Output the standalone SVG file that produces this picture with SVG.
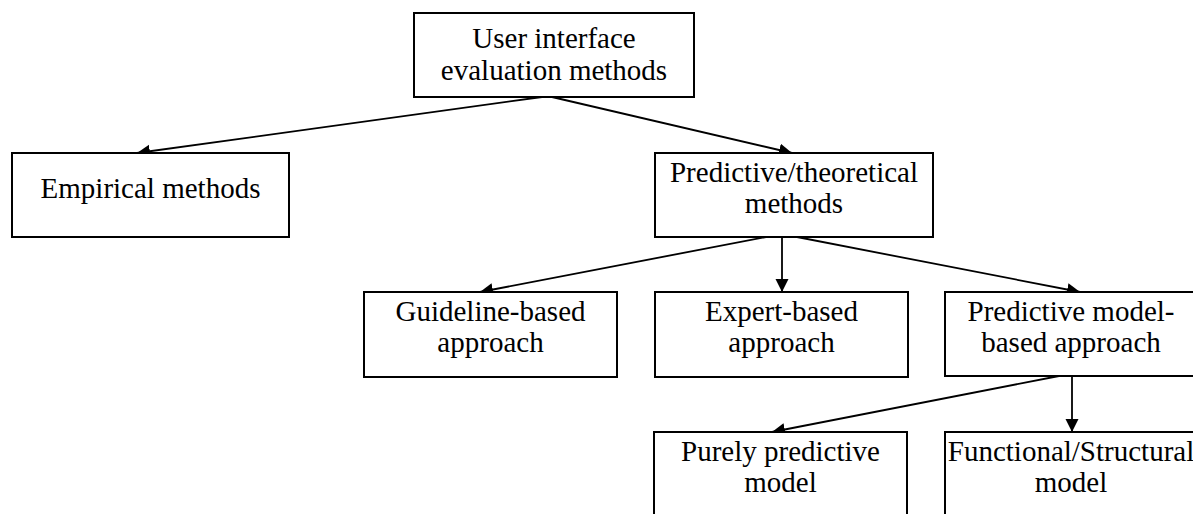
<svg xmlns="http://www.w3.org/2000/svg" width="1193" height="514" viewBox="0 0 1193 514">
<style>
.box{fill:#fff;stroke:#000;stroke-width:2}
.t{font-family:"Liberation Serif","Times New Roman",serif;font-size:29px;fill:#000;text-anchor:middle}
.c{stroke:#000;stroke-width:1.8;fill:none;marker-end:url(#ah)}
</style>
<defs>
<marker id="ah" markerUnits="userSpaceOnUse" markerWidth="14" markerHeight="14" refX="13" refY="6.5" orient="auto">
<path d="M0,0 L13,6.5 L0,13 z" fill="#000"/>
</marker>
</defs>
<rect width="1193" height="514" fill="#fff"/>
<g id="connectors">
<path class="c" d="M542,97 L137,153"/>
<path class="c" d="M552,97 L792,153"/>
<path class="c" d="M766,237 L480,292"/>
<path class="c" d="M782,237 L782,292"/>
<path class="c" d="M797,237 L1080,292"/>
<path class="c" d="M1059,376 L772,432"/>
<path class="c" d="M1072,376 L1072,432"/>
</g>
<g id="root">
<rect class="box" x="414" y="13" width="280" height="84"/>
<text class="t" x="554" y="48">User interface</text>
<text class="t" x="554" y="80">evaluation methods</text>
</g>
<g id="empirical">
<rect class="box" x="12" y="153" width="277" height="84"/>
<text class="t" x="150.5" y="198">Empirical methods</text>
</g>
<g id="predictive">
<rect class="box" x="655" y="153" width="278" height="84"/>
<text class="t" x="794" y="182">Predictive/theoretical</text>
<text class="t" x="794" y="213">methods</text>
</g>
<g id="guideline">
<rect class="box" x="364" y="292" width="253" height="85"/>
<text class="t" x="490.5" y="321">Guideline-based</text>
<text class="t" x="490.5" y="352">approach</text>
</g>
<g id="expert">
<rect class="box" x="655" y="292" width="253" height="85"/>
<text class="t" x="781.5" y="321">Expert-based</text>
<text class="t" x="781.5" y="352">approach</text>
</g>
<g id="modelbased">
<rect class="box" x="945" y="292" width="253" height="84"/>
<text class="t" x="1071" y="321">Predictive model-</text>
<text class="t" x="1071" y="352">based approach</text>
</g>
<g id="purely">
<rect class="box" x="654" y="432" width="253" height="85"/>
<text class="t" x="780.5" y="461">Purely predictive</text>
<text class="t" x="780.5" y="492">model</text>
</g>
<g id="functional">
<rect class="box" x="945" y="432" width="253" height="85"/>
<text class="t" x="1071" y="461">Functional/Structural</text>
<text class="t" x="1071" y="492">model</text>
</g>
</svg>
